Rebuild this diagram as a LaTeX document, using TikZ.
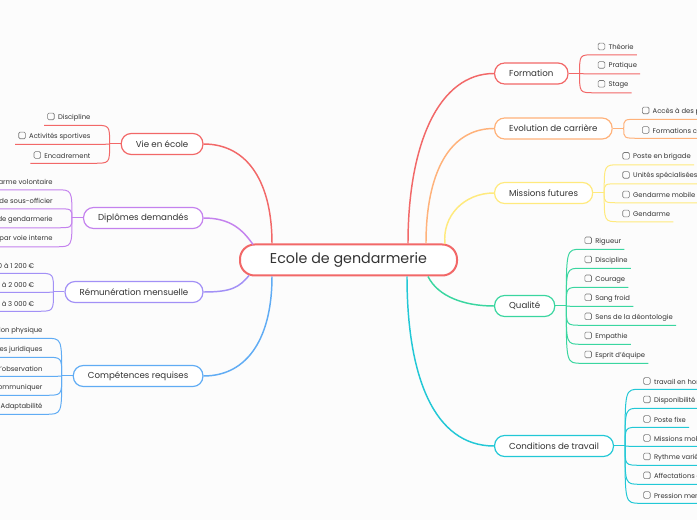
\documentclass[tikz,border=0pt]{standalone}
\usepackage{fontspec}
\setmainfont{Poppins}
\definecolor{mapred}{RGB}{242,104,104}
\definecolor{maporange}{RGB}{255,178,122}
\definecolor{mapyellow}{RGB}{255,234,125}
\definecolor{mapgreen}{RGB}{58,214,160}
\definecolor{mapcyan}{RGB}{34,200,214}
\definecolor{mappurple}{RGB}{196,130,238}
\definecolor{maplavender}{RGB}{162,144,246}
\definecolor{mapblue}{RGB}{96,172,244}
\definecolor{inkgray}{RGB}{51,51,51}
\definecolor{boxgray}{RGB}{120,120,120}
\definecolor{paper}{RGB}{252,252,252}
\usetikzlibrary{positioning,calc}
% small tick box in front of every leaf
\newcommand{\chk}{\tikz[baseline=0.2pt]\draw[boxgray,line width=0.45pt,rounded corners=1pt] (0pt,0pt) rectangle (5pt,5pt);}
% leaves on the left of a branch: #1 name, #2 colour, #3 count, #4 labels
\newcommand{\twigsleft}[4]{%
  \coordinate (#1J) at ($(#1.west)+(-11,0)$);
  \draw[twig,#2] (#1.west) -- (#1J);
  \foreach \lbl [count=\i] in {#4}{
    \node[leaf, anchor=east] (#1\i) at ($(#1J)+(-16,{(\i-(#3+1)/2)*19-8})$)
      {\chk\hspace{2.6pt}\lbl};
    \draw[twig,#2] (#1J) .. controls (#1J |- #1\i.south) .. (#1\i.south east)
      -- (#1\i.south west);
  }}
% leaves on the right of a branch
\newcommand{\twigsright}[4]{%
  \coordinate (#1J) at ($(#1.east)+(11,0)$);
  \draw[twig,#2] (#1.east) -- (#1J);
  \foreach \lbl [count=\i] in {#4}{
    \node[leaf, anchor=west] (#1\i) at ($(#1J)+(15,{(\i-(#3+1)/2)*19-8})$)
      {\chk\hspace{2.6pt}\lbl};
    \draw[twig,#2] (#1J) .. controls (#1J |- #1\i.south) .. (#1\i.south west)
      -- (#1\i.south east);
  }}
\begin{document}
\begin{tikzpicture}[x=0.75pt, y=-0.75pt,
    every node/.style={text=inkgray},
    root/.style={draw=mapred, line width=1.5pt, fill=white,
                 rounded corners=11pt, minimum width=162.75pt,
                 minimum height=23.25pt,
                 font=\fontsize{10.7}{12}\selectfont},
    branch/.style={draw=#1, line width=0.9pt, fill=white,
                   rounded corners=7.5pt, minimum height=15.75pt,
                   inner xsep=10.9pt, font=\fontsize{6.5}{8}\selectfont},
    leaf/.style={minimum height=12pt, inner xsep=2.25pt, inner ysep=0pt,
                 font=\fontsize{5.1}{6}\selectfont},
    limb/.style={line width=1.1pt},
    twig/.style={line width=0.75pt}]
  \useasboundingbox (0,0) rectangle (697,520);
  \fill[paper] (0,0) rectangle (697,520);
  \clip (0,0) rectangle (697,520);

  % centre
  \node[root] (root) at (348.5,260) {Ecole de gendarmerie};

  % left branches
  \node[branch=mapred, anchor=east] (vie) at (203.5,144) {Vie en école};
  \node[branch=mappurple, anchor=east] (dip) at (203.5,218) {Diplômes demandés};
  \node[branch=maplavender, anchor=east] (rem) at (203.5,292) {Rémunération mensuelle};
  \node[branch=mapblue, anchor=east] (comp) at (203.5,376) {Compétences requises};
  % right branches
  \node[branch=mapred, anchor=west] (form) at (494,73.5) {Formation};
  \node[branch=maporange, anchor=west] (evo) at (494,128.5) {Evolution de carrière};
  \node[branch=mapyellow, anchor=west] (miss) at (494,193) {Missions futures};
  \node[branch=mapgreen, anchor=west] (qual) at (494,306) {Qualité};
  \node[branch=mapcyan, anchor=west] (cond) at (494,446) {Conditions de travail};

  \draw[limb,mapred] (vie.east) .. controls +(45,0) and +(0,-60) .. ($(root.north west)+(33,0)$);
  \draw[limb,mappurple] (dip.east) .. controls +(28,0) and +(-10,-14) .. ($(root.north west)+(14,1)$);
  \draw[limb,maplavender] (rem.east) .. controls +(28,0) and +(-10,12) .. ($(root.south west)+(10,-1)$);
  \draw[limb,mapblue] (comp.east) .. controls +(45,0) and +(0,60) .. ($(root.south west)+(33,0)$);
  \draw[limb,mapred] (form.west) .. controls +(-55,0) and +(0,-100) .. ($(root.north east)+(-50,0)$);
  \draw[limb,maporange] (evo.west) .. controls +(-45,0) and +(0,-70) .. ($(root.north east)+(-32,0)$);
  \draw[limb,mapyellow] (miss.west) .. controls +(-30,0) and +(-3,-28) .. ($(root.north east)+(-13,0.5)$);
  \draw[limb,mapgreen] (qual.west) .. controls +(-30,0) and +(10,20) .. ($(root.south east)+(-30,0)$);
  \draw[limb,mapcyan] (cond.west) .. controls +(-60,0) and +(0,100) .. ($(root.south east)+(-51,0)$);

  % leaves
  \twigsleft{vie}{mapred}{3}{Discipline, Activités sportives, Encadrement}
  \twigsleft{dip}{mappurple}{4}{Gendarme volontaire, Concours de sous-officier,
    Cadet de gendarmerie, Officier par voie interne}
  \twigsleft{rem}{maplavender}{3}{1 100 à 1 200 €, 1 500 à 2 000 €, 2 500 à 3 000 €}
  \twigsleft{comp}{mapblue}{5}{Condition physique, Connaissances juridiques,
    Sens de l'observation, Savoir communiquer, Adaptabilité}
  \twigsright{form}{mapred}{3}{Théorie, Pratique, Stage}
  \twigsright{evo}{maporange}{2}{Accès à des postes à responsabilité,
    Formations continues}
  \twigsright{miss}{mapyellow}{4}{Poste en brigade, Unités spécialisées,
    Gendarme mobile, Gendarme}
  \twigsright{qual}{mapgreen}{7}{Rigueur, Discipline, Courage, Sang froid,
    Sens de la déontologie, Empathie, Esprit d'équipe}
  \twigsright{cond}{mapcyan}{7}{travail en horaires décalés, Disponibilité permanente,
    Poste fixe, Missions mobiles, Rythme varié, Affectations changeantes,
    Pression mentale}
\end{tikzpicture}
\end{document}
